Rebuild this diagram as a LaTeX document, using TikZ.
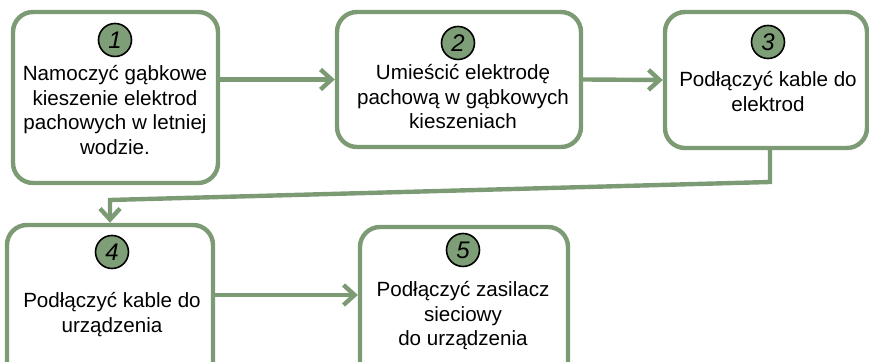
\documentclass[tikz,border=0pt]{standalone}
\usepackage{fontspec}
\setmainfont{Liberation Sans}
\usetikzlibrary{arrows.meta}
\definecolor{sage}{RGB}{124,154,116}
\definecolor{sagefill}{RGB}{126,158,119}

\begin{document}
\begin{tikzpicture}[x=0.5pt, y=-0.5pt,
	stepbox/.style={draw=sage, line width=2.2pt, rounded corners=10pt, fill=white, inner sep=0pt},
	numdot/.style={circle, draw=black, line width=0.8pt, fill=sagefill, minimum size=16.5pt, inner sep=0pt, font=\itshape\fontsize{12}{12}\selectfont},
	steptext/.style={align=center, inner sep=0pt, font=\fontsize{10.3}{12.25}\selectfont},
	flow/.style={draw=sage, line width=2.2pt, -{Straight Barb[length=5.5pt, width=10pt]}}]

	\useasboundingbox (0,0) rectangle (869,362);
	\clip (0,0) rectangle (869,362);

	% boxes
	\node (b1) [stepbox, minimum width=102.5pt, minimum height=85.5pt] at (115.5,97.5) {};
	\node (b2) [stepbox, minimum width=122pt, minimum height=67.5pt] at (459,79.5) {};
	\node (b3) [stepbox, minimum width=101pt, minimum height=68pt] at (766,80) {};
	\node (b4) [stepbox, minimum width=103pt, minimum height=87.5pt] at (110,312.5) {};
	\node (b5) [stepbox, minimum width=104pt, minimum height=86.5pt] at (464,313.5) {};

	% numbers
	\node (n1) [numdot] at (115,40) {1};
	\node (n2) [numdot] at (458,43) {2};
	\node (n3) [numdot] at (768,42) {3};
	\node (n4) [numdot] at (112,252) {4};
	\node (n5) [numdot] at (463,250) {5};

	% texts
	\node (t1) [steptext] at (115,110) {Namoczyć gąbkowe\\kieszenie elektrod\\pachowych w letniej\\wodzie.};
	\node (t2) [steptext] at (463,97) {Umieścić elektrodę\\pachową w gąbkowych\\kieszeniach};
	\node (t3) [steptext] at (768,91.5) {Podłączyć kable do\\elektrod};
	\node (t4) [steptext] at (112,314.5) {Podłączyć kable do\\urządzenia};
	\node (t5) [steptext] at (463,316) {Podłączyć zasilacz\\sieciowy\\do urządzenia};

	% connectors
	\coordinate (k1) at (770,182);
	\coordinate (k2) at (110,200);
	\draw[flow] (b1.east |- b2.west) -- (b2.west);
	\draw[flow] (b2.east) -- (b3.west);
	\draw[flow] (k1 |- b3.south) -- (k1) -- (k2) -- (k2 |- b4.north);
	\draw[flow] ([yshift=8.75pt]b4.east) -- ([yshift=8.75pt]b4.east -| b5.west);
\end{tikzpicture}
\end{document}
